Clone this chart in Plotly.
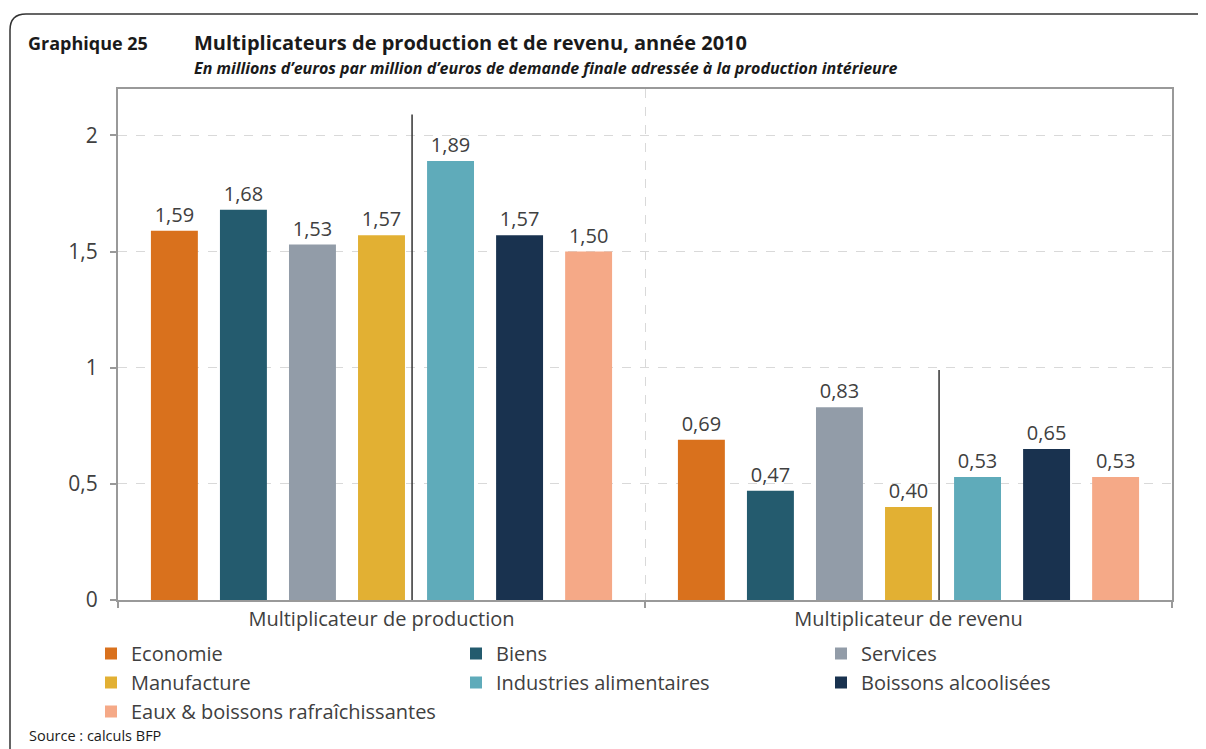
import plotly.graph_objects as go

# ---- data ----
categories = ["Multiplicateur de production", "Multiplicateur de revenu"]
series_names = ["Economie", "Biens", "Services", "Manufacture",
                "Industries alimentaires", "Boissons alcoolisées",
                "Eaux & boissons rafraîchissantes"]
production = [1.59, 1.68, 1.53, 1.57, 1.89, 1.57, 1.50]
revenu = [0.69, 0.47, 0.83, 0.40, 0.53, 0.65, 0.53]
colors = ["#D9711D", "#245B6E", "#929CA8", "#E2B033", "#5FABBA", "#19324F", "#F5A987"]
y_tickvals = [0, 0.5, 1, 1.5, 2]
y_ticktext = ["0", "0,5", "1", "1,5", "2"]
separator_tops = [2.09, 0.99]

FONT = "Open Sans"
TXT = "#404040"
O = 8  # browser body margin
W, H = 1206 - O, 749 - O
# plot area in page pixels: x 118..1172, y 89..600
ML, MR, MT, MB = 118 - O, 1206 - 1172, 89 - O, 749 - 600
PW, PH = W - ML - MR, H - MT - MB


def px(x):  # page pixel -> paper
    return (x - O - ML) / PW


def py(y):
    return (MT + PH - (y - O)) / PH


fig = go.Figure()
for i, name in enumerate(series_names):
    fig.add_trace(go.Bar(
        name=name, x=categories, y=[production[i], revenu[i]],
        marker=dict(color=colors[i], line=dict(width=0)),
        texttemplate="%{y:.2f}", textposition="outside",
        textfont=dict(size=20, color=TXT, family=FONT),
        cliponaxis=False,
    ))

shapes = []
for k, top in enumerate(separator_tops):
    shapes.append(dict(type="line", xref="x", yref="y", x0=k + 0.058, x1=k + 0.058,
                       y0=0, y1=top, line=dict(color="#333333", width=1.5), layer="above"))

r = 16
path = (f"M {px(10)},{py(770)} L {px(10)},{py(14 + r)} "
        f"Q {px(10)},{py(14)} {px(10 + r)},{py(14)} L {px(1230)},{py(14)}")
shapes.append(dict(type="path", xref="paper", yref="paper", path=path,
                   line=dict(color="#333333", width=1.5)))

annotations = [
    dict(text="<b>Graphique 25</b>", x=px(26), y=py(43), xref="paper", yref="paper",
         xanchor="left", yanchor="middle", showarrow=False,
         font=dict(size=18, color="#1a1a1a", family=FONT)),
    dict(text="<b>Multiplicateurs de production et de revenu, année 2010</b>",
         x=px(192), y=py(43), xref="paper", yref="paper",
         xanchor="left", yanchor="middle", showarrow=False,
         font=dict(size=20, color="#1a1a1a", family=FONT)),
    dict(text="<b><i>En millions d’euros par million d’euros de demande finale adressée à la production intérieure</i></b>",
         x=px(192), y=py(68), xref="paper", yref="paper",
         xanchor="left", yanchor="middle", showarrow=False,
         font=dict(size=16, color="#1a1a1a", family=FONT)),
    dict(text="Source : calculs BFP", x=px(27), y=py(735), xref="paper", yref="paper",
         xanchor="left", yanchor="middle", showarrow=False,
         font=dict(size=14.5, color="#1a1a1a", family=FONT)),
]

fig.update_layout(
    width=W, height=H,
    margin=dict(l=ML, r=MR, t=MT, b=MB, autoexpand=False),
    paper_bgcolor="white", plot_bgcolor="white",
    separators=", ",
    barmode="group", bargap=0.083, bargroupgap=0.32,
    font=dict(family=FONT, size=20, color=TXT),
    showlegend=True,
    legend=dict(orientation="h", x=px(91), y=py(634), xanchor="left", yanchor="top",
                entrywidth=320, entrywidthmode="pixels",
                font=dict(size=20, color=TXT, family=FONT),
                itemclick=False, bgcolor="rgba(0,0,0,0)", tracegroupgap=0),
    xaxis=dict(showline=True, linecolor="#999999", linewidth=2, mirror=True,
               tickson="boundaries", ticks="outside", ticklen=6, tickcolor="#999999",
               tickwidth=2, showgrid=True, gridcolor="#D9D9D9", griddash="dash",
               tickfont=dict(size=20, color=TXT, family=FONT)),
    yaxis=dict(range=[0, 2.2], tickvals=y_tickvals, ticktext=y_ticktext,
               showline=True, linecolor="#999999", linewidth=2, mirror=True,
               ticks="outside", ticklen=6, tickcolor="#999999", tickwidth=2,
               ticklabelstandoff=8,
               showgrid=True, gridcolor="#D9D9D9", griddash="dash", zeroline=False,
               tickfont=dict(size=21, color=TXT, family=FONT)),
    shapes=shapes,
    annotations=annotations,
)

fig.write_html("out.html")
